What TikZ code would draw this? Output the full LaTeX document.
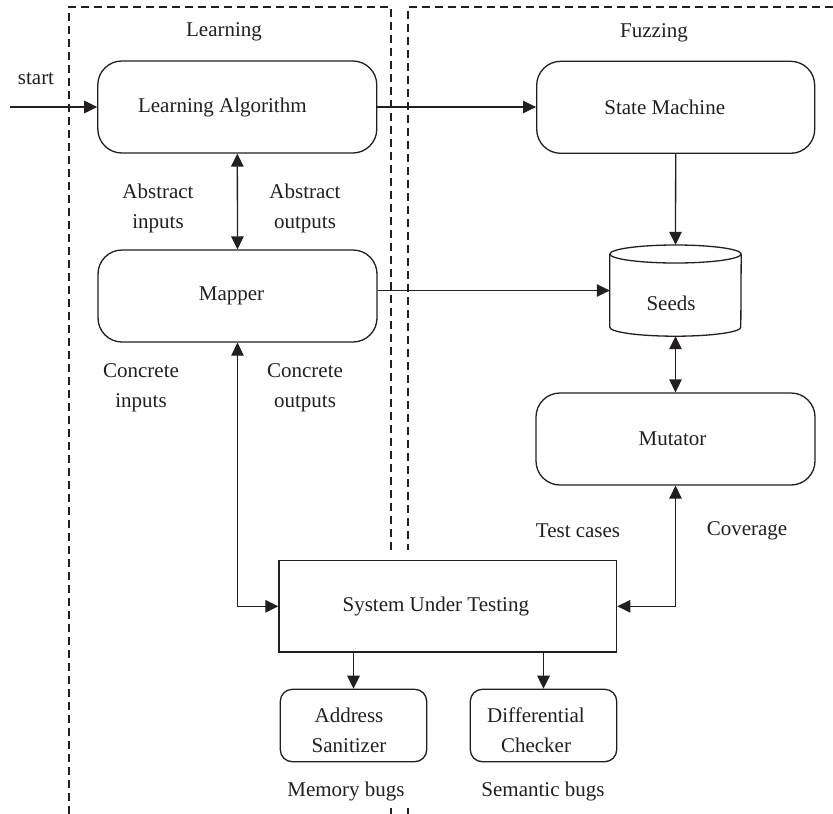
\documentclass[tikz,border=0pt]{standalone}
\usepackage{fontspec}
\setmainfont{Liberation Serif}
\usetikzlibrary{arrows.meta}
\definecolor{ink}{HTML}{231F20}
\begin{document}
\begin{tikzpicture}[x=1pt,y=-1pt,
  every node/.style={font=\fontsize{21}{30}\selectfont, text=ink},
  rbox/.style={draw=ink, line width=1.3pt, rounded corners=24pt, inner sep=0pt, anchor=center},
  sbox/.style={draw=ink, line width=1.3pt, rounded corners=12pt, inner sep=0pt, anchor=center},
  lbl/.style={align=center, inner sep=0pt, anchor=center},
  arr/.style={draw=ink, line width=1.3pt, -{Triangle[length=13pt,width=12.5pt]}},
  darr/.style={draw=ink, line width=1.3pt, {Triangle[length=13pt,width=12.5pt]}-{Triangle[length=13pt,width=12.5pt]}},
  dashline/.style={draw=ink, line width=1.1pt, dash pattern=on 8pt off 5pt}
]
\useasboundingbox (0,0) rectangle (833,814);
\fill[white] (0,0) rectangle (833,814);

% dashed regions
\draw[dashline] (69,814) -- (69,7) -- (391,7) -- (391,550);
\draw[dashline] (391,808) -- (391,814);
\draw[dashline] (833,7) -- (408,7) -- (408,550);
\draw[dashline] (408,808) -- (408,814);

\node[lbl] (tlearn) at (224,32) {Learning};
\node[lbl] (tfuzz) at (654,33) {Fuzzing};

% nodes
\node[rbox, minimum width=279pt, minimum height=92pt,
  label={[xshift=-15pt]center:Learning Algorithm}] (la) at (237.3,107) {};
\node[rbox, minimum width=279pt, minimum height=92pt,
  label={[xshift=-6pt]center:Mapper}] (mapper) at (237.5,296) {};
\node[rbox, minimum width=278pt, minimum height=92pt,
  label={[xshift=-11pt]center:State Machine}] (sm) at (675.7,107.3) {};
\node[rbox, minimum width=279pt, minimum height=92pt,
  label={[xshift=-3pt]center:Mutator}] (mut) at (675.5,439) {};
\node[inner sep=0pt, minimum width=131pt, minimum height=91pt, anchor=center] (seeds) at (675.5,290.5) {};
\path (seeds.north west) ++(0,9) coordinate (stl)
  (seeds.north east) ++(0,9) coordinate (str)
  (seeds.south west) ++(0,-9) coordinate (sbl)
  (seeds.south east) ++(0,-9) coordinate (sbr);
\draw[ink, line width=1.3pt] (675.5,254) ellipse [x radius=65.5pt, y radius=9pt];
\draw[ink, line width=1.3pt] (stl) -- (sbl) arc[start angle=180, end angle=360, x radius=65.5pt, y radius=9pt] -- (str);
\node[lbl] (tseeds) at (671,303) {Seeds};

\node[draw=ink, line width=1.3pt, inner sep=0pt, minimum width=337.7pt, minimum height=91.3pt, anchor=center,
  label={[xshift=-12pt]center:System Under Testing}] (sut) at (447.8,606.3) {};
\node[sbox, minimum width=146.4pt, minimum height=72.4pt] (as) at (353.5,725.5) {};
\node[lbl] (tas) at (349,730) {Address\\Sanitizer};
\node[sbox, minimum width=146.4pt, minimum height=72.4pt] (dc) at (543.5,725.5) {};
\node[lbl] (tdc) at (536,730) {Differential\\Checker};

% labels
\node[lbl] (tstart) at (36,79) {start};
\node[lbl] (tai) at (158,208) {Abstract\\inputs};
\node[lbl] (tao) at (305,208) {Abstract\\outputs};
\node[lbl] (tci) at (141,388) {Concrete\\inputs};
\node[lbl] (tco) at (305,388) {Concrete\\outputs};
\node[lbl] (ttc) at (578,531) {Test cases};
\node[lbl] (tcov) at (747,531) {Coverage};
\node[lbl] (tmb) at (346,791) {Memory bugs};
\node[lbl] (tsb) at (543,791) {Semantic bugs};

% connectors
\coordinate (start) at (10,107);
\draw[arr] (start) -- (la.west);
\draw[arr] (la.east) -- (sm.west |- la.east);
\draw[darr] (la.south) -- (mapper.north);
\draw[arr] (mapper.east |- seeds.west) -- (seeds.west);
\draw[arr] (sm.south) -- (seeds.north);
\draw[darr] (seeds.south) -- (mut.north);
\draw[darr] (mapper.south) |- (sut.west);
\draw[darr] (mut.south) |- (sut.east);
\draw[arr] (sut.south -| as.north) -- (as.north);
\draw[arr] (sut.south -| dc.north) -- (dc.north);
\end{tikzpicture}
\end{document}
